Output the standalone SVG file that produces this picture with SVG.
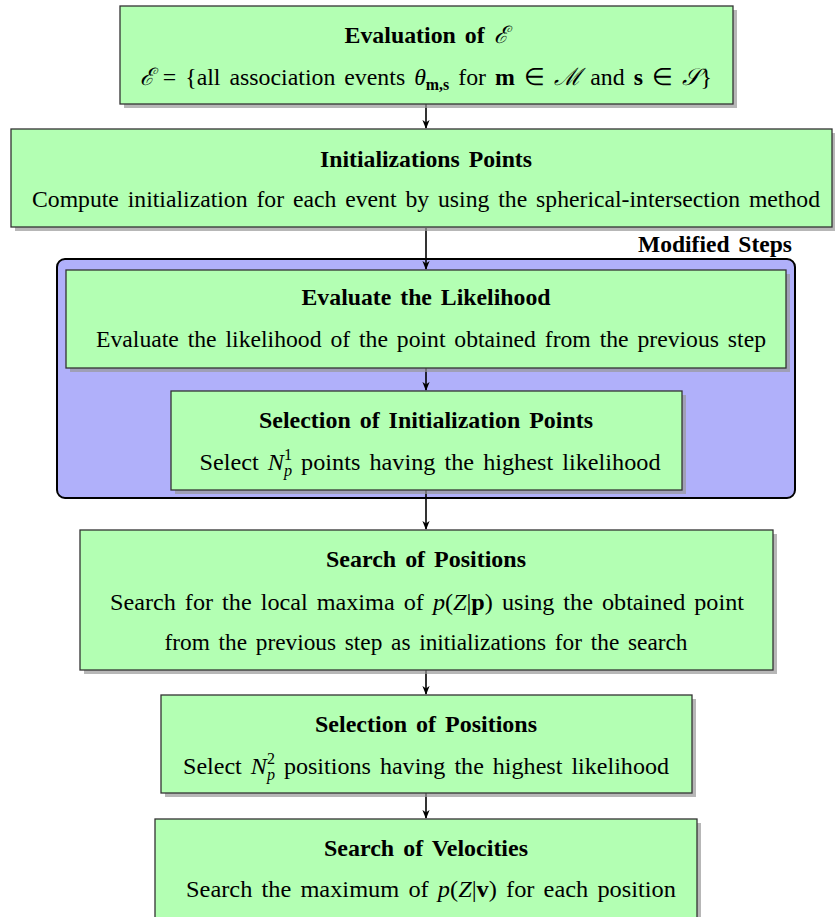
<svg xmlns="http://www.w3.org/2000/svg" width="835" height="917" viewBox="0 0 835 917">
<defs>
<marker id="arr" viewBox="0 0 10 10" refX="9" refY="5" markerWidth="9" markerHeight="9" markerUnits="userSpaceOnUse" orient="auto">
<path d="M0,1 L10,5 L0,9 L3,5 Z" fill="#000"/>
</marker>
</defs>
<style>
.box{fill:#b3ffb3;stroke:#333;stroke-width:1.3}
.sh{fill:#999;opacity:0.7}
.t{font-family:"Liberation Serif","Times New Roman",serif;font-size:24px;word-spacing:3px;text-anchor:middle;fill:#000}
.b{font-weight:bold}
.i{font-style:italic}
.bf{font-weight:bold}
.con{stroke:#000;stroke-width:1.6;fill:none;marker-end:url(#arr)}
</style>
<rect width="835" height="917" fill="#fff"/>

<g id="modified">
<rect x="57" y="259" width="738" height="239" rx="8" fill="#b0b0fa" stroke="#000" stroke-width="2"/>
<text class="t b" x="792" y="252" style="text-anchor:end" textLength="154" lengthAdjust="spacingAndGlyphs">Modified Steps</text>
</g>

<g id="connectors">
<line class="con" x1="426" y1="104" x2="426" y2="128"/>
<line class="con" x1="426" y1="228" x2="426" y2="269"/>
<line class="con" x1="426" y1="368" x2="426" y2="390"/>
<line class="con" x1="426" y1="490" x2="426" y2="529"/>
<line class="con" x1="426" y1="670" x2="426" y2="694"/>
<line class="con" x1="426" y1="793" x2="426" y2="818"/>
</g>

<g id="n1">
<rect class="sh" x="124" y="10" width="613" height="98"/>
<rect class="box" x="120" y="6" width="613" height="98"/>
<text class="t b" x="426" y="43" textLength="163" lengthAdjust="spacingAndGlyphs">Evaluation of <tspan class="i" font-family="DejaVu Serif" font-weight="normal">ℰ</tspan></text>
<text class="t" x="426" y="85" textLength="572" lengthAdjust="spacingAndGlyphs"><tspan class="i" font-family="DejaVu Serif">ℰ</tspan> = {all association events <tspan class="i">θ</tspan><tspan class="bf" font-size="16" dy="5">m,s</tspan><tspan dy="-5"> for </tspan><tspan class="bf">m</tspan> ∈ <tspan font-family="DejaVu Serif" class="i">ℳ</tspan> and <tspan class="bf">s</tspan> ∈ <tspan class="i" font-family="DejaVu Serif">𝒮</tspan>}</text>
</g>

<g id="n2">
<rect class="sh" x="15" y="133" width="821" height="98"/>
<rect class="box" x="11" y="129" width="821" height="98"/>
<text class="t b" x="426" y="167" textLength="212" lengthAdjust="spacingAndGlyphs">Initializations Points</text>
<text class="t" x="426" y="207" textLength="788" lengthAdjust="spacingAndGlyphs">Compute initialization for each event by using the spherical-intersection method</text>
</g>

<g id="n3">
<rect class="sh" x="70" y="274" width="720" height="98"/>
<rect class="box" x="66" y="270" width="720" height="98"/>
<text class="t b" x="426" y="305" textLength="249" lengthAdjust="spacingAndGlyphs">Evaluate the Likelihood</text>
<text class="t" x="431" y="347" textLength="670" lengthAdjust="spacingAndGlyphs">Evaluate the likelihood of the point obtained from the previous step</text>
</g>

<g id="n4">
<rect class="sh" x="175" y="395" width="511" height="99"/>
<rect class="box" x="171" y="391" width="511" height="99"/>
<text class="t b" x="426" y="428" textLength="334" lengthAdjust="spacingAndGlyphs">Selection of Initialization Points</text>
<text class="t" x="430" y="470" textLength="461" lengthAdjust="spacingAndGlyphs">Select <tspan class="i">N</tspan><tspan font-size="16" dy="-10">1</tspan><tspan class="i" font-size="16" dx="-8" dy="16">p</tspan><tspan dy="-6"> points having the highest likelihood</tspan></text>
</g>

<g id="n5">
<rect class="sh" x="84" y="534" width="693" height="140"/>
<rect class="box" x="80" y="530" width="693" height="140"/>
<text class="t b" x="426" y="567" textLength="200" lengthAdjust="spacingAndGlyphs">Search of Positions</text>
<text class="t" x="427" y="610" textLength="634" lengthAdjust="spacingAndGlyphs">Search for the local maxima of <tspan class="i">p</tspan>(<tspan class="i">Z</tspan>|<tspan class="bf">p</tspan>) using the obtained point</text>
<text class="t" x="426" y="650" textLength="523" lengthAdjust="spacingAndGlyphs">from the previous step as initializations for the search</text>
</g>

<g id="n6">
<rect class="sh" x="165" y="699" width="531" height="98"/>
<rect class="box" x="161" y="695" width="531" height="98"/>
<text class="t b" x="426" y="732" textLength="222" lengthAdjust="spacingAndGlyphs">Selection of Positions</text>
<text class="t" x="426" y="774" textLength="486" lengthAdjust="spacingAndGlyphs">Select <tspan class="i">N</tspan><tspan font-size="16" dy="-10">2</tspan><tspan class="i" font-size="16" dx="-8" dy="16">p</tspan><tspan dy="-6"> positions having the highest likelihood</tspan></text>
</g>

<g id="n7">
<rect class="sh" x="159" y="823" width="542" height="100"/>
<rect class="box" x="155" y="819" width="542" height="110"/>
<text class="t b" x="426" y="856" textLength="204" lengthAdjust="spacingAndGlyphs">Search of Velocities</text>
<text class="t" x="431" y="897" textLength="490" lengthAdjust="spacingAndGlyphs">Search the maximum of <tspan class="i">p</tspan>(<tspan class="i">Z</tspan>|<tspan class="bf">v</tspan>) for each position</text>
</g>
</svg>
